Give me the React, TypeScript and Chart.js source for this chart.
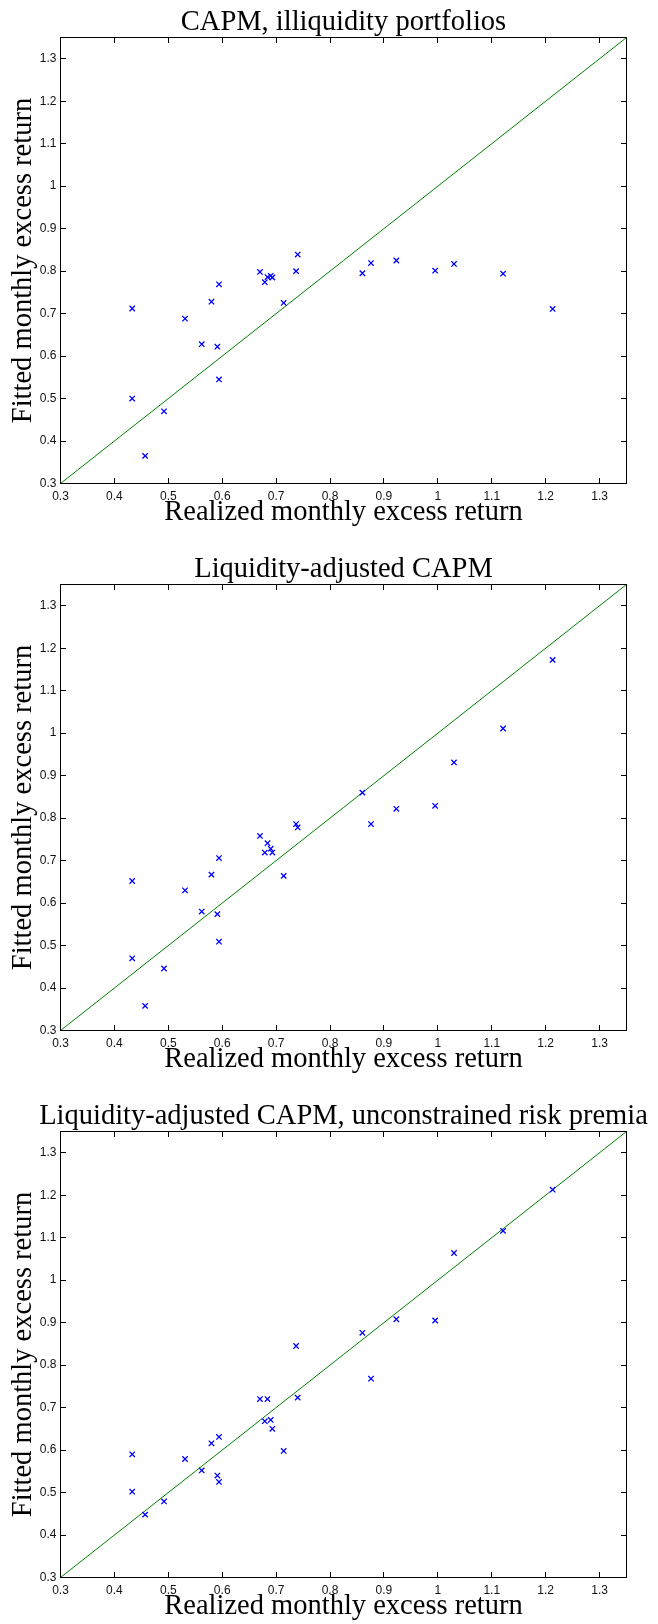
import React, { useEffect, useRef } from 'react';
import { Chart, registerables } from 'chart.js';

Chart.register(...registerables);

// ---- data ----
const REALIZED = [
  0.433, 0.433, 0.457, 0.492, 0.531, 0.562, 0.58, 0.591, 0.594, 0.594,
  0.67, 0.679, 0.684, 0.69, 0.693, 0.714, 0.737, 0.74, 0.86, 0.876,
  0.923, 0.995, 1.03, 1.121, 1.213,
];
const FITTED_CAPM = [
  0.712, 0.5, 0.365, 0.47, 0.688, 0.628, 0.728, 0.622, 0.769, 0.545,
  0.798, 0.774, 0.786, 0.789, 0.785, 0.725, 0.8, 0.839, 0.795, 0.819,
  0.825, 0.801, 0.817, 0.794, 0.711,
];
const FITTED_LCAPM = [
  0.652, 0.47, 0.358, 0.446, 0.63, 0.58, 0.667, 0.574, 0.706, 0.509,
  0.758, 0.719, 0.741, 0.728, 0.719, 0.664, 0.786, 0.778, 0.86, 0.786,
  0.822, 0.829, 0.931, 1.011, 1.1725,
];
const FITTED_UNCONSTRAINED = [
  0.59, 0.502, 0.448, 0.479, 0.579, 0.552, 0.616, 0.54, 0.631, 0.525,
  0.72, 0.668, 0.72, 0.671, 0.65, 0.598, 0.845, 0.7235, 0.876, 0.768,
  0.908, 0.905, 1.064, 1.116, 1.213,
];
const DIAGONAL = [0.3, 1.35];
const TICK_VALUES = [0.3, 0.4, 0.5, 0.6, 0.7, 0.8, 0.9, 1.0, 1.1, 1.2, 1.3];
const TICK_LABELS = ['0.3', '0.4', '0.5', '0.6', '0.7', '0.8', '0.9', '1', '1.1', '1.2', '1.3'];
const AXIS_MIN = 0.3;
const AXIS_MAX = 1.35;
const TITLES = [
  'CAPM, illiquidity portfolios',
  'Liquidity-adjusted CAPM',
  'Liquidity-adjusted CAPM, unconstrained risk premia',
];
const SERIES = [FITTED_CAPM, FITTED_LCAPM, FITTED_UNCONSTRAINED];
const X_LABEL = 'Realized monthly excess return';
const Y_LABEL = 'Fitted monthly excess return';

// ---- layout / style ----
const W = 658;
const PANEL_H = 547;
const SERIF = '"Liberation Serif", "Times New Roman", serif';
const SANS = '"Liberation Sans", Arial, Helvetica, sans-serif';
const BIG = 28.5;
const TICK_LEN = 5.5;

const snap = (v: number) => Math.round(v - 0.5) + 0.5;

const boxPlugin = {
  id: 'matlabBox',
  afterDraw(chart: any) {
    const { ctx, chartArea: a, scales } = chart;
    const xs = scales.x;
    const ys = scales.y;
    ctx.save();
    ctx.strokeStyle = '#000';
    ctx.lineWidth = 1;
    ctx.strokeRect(a.left, a.top, a.right - a.left, a.bottom - a.top);
    ctx.beginPath();
    for (const v of TICK_VALUES) {
      const px = snap(xs.getPixelForValue(v));
      ctx.moveTo(px, a.bottom);
      ctx.lineTo(px, a.bottom - TICK_LEN);
      ctx.moveTo(px, a.top);
      ctx.lineTo(px, a.top + TICK_LEN);
      const py = snap(ys.getPixelForValue(v));
      ctx.moveTo(a.left, py);
      ctx.lineTo(a.left + TICK_LEN, py);
      ctx.moveTo(a.right, py);
      ctx.lineTo(a.right - TICK_LEN, py);
    }
    ctx.stroke();
    ctx.restore();
  },
};

const labelFor = (v: number) => {
  const i = TICK_VALUES.findIndex((t) => Math.abs(t - v) < 1e-9);
  return i >= 0 ? TICK_LABELS[i] : '';
};

function Panel({ index }: { index: number }) {
  const ref = useRef<HTMLCanvasElement | null>(null);
  useEffect(() => {
    if (!ref.current) return;
    const fitted = SERIES[index];
    const chart = new Chart(ref.current, {
      type: 'scatter',
      data: {
        datasets: [
          {
            type: 'scatter',
            data: REALIZED.map((r, i) => ({ x: r, y: fitted[i] })),
            pointStyle: 'crossRot',
            pointRadius: 3.8,
            pointHoverRadius: 3.8,
            borderColor: '#0000ff',
            backgroundColor: '#0000ff',
            borderWidth: 1.3,
          } as any,
          {
            type: 'line',
            data: DIAGONAL.map((v) => ({ x: v, y: v })),
            borderColor: '#008000',
            borderWidth: 1,
            pointRadius: 0,
            fill: false,
            showLine: true,
          } as any,
        ],
      },
      options: {
        animation: false,
        responsive: false,
        devicePixelRatio: 1,
        events: [],
        layout: { padding: { left: 29, right: 0, top: 0, bottom: 0 } },
        plugins: {
          legend: { display: false },
          tooltip: { enabled: false },
          title: {
            display: true,
            text: TITLES[index],
            color: '#000',
            font: { family: SERIF, size: BIG, weight: 'normal', lineHeight: 1 },
            padding: { top: 7.85, bottom: 1.15 },
          },
        },
        scales: {
          x: {
            type: 'linear',
            position: 'bottom',
            min: AXIS_MIN,
            max: AXIS_MAX,
            grid: { display: false, drawTicks: false },
            border: { display: false },
            afterBuildTicks: (s: any) => {
              s.ticks = TICK_VALUES.map((v) => ({ value: v }));
            },
            ticks: {
              callback: (v: any) => labelFor(Number(v)),
              font: { family: SANS, size: 12 },
              color: '#111',
              padding: 6,
              maxRotation: 0,
              autoSkip: false,
            },
            title: {
              display: true,
              text: X_LABEL,
              color: '#000',
              font: { family: SERIF, size: BIG, weight: 'normal', lineHeight: 1 },
              padding: { top: 0, bottom: 20.65 },
            },
            afterFit: (s: any) => {
              s.height = 63.5;
            },
          },
          y: {
            type: 'linear',
            position: 'left',
            min: AXIS_MIN,
            max: AXIS_MAX,
            grid: { display: false, drawTicks: false },
            border: { display: false },
            afterBuildTicks: (s: any) => {
              s.ticks = TICK_VALUES.map((v) => ({ value: v }));
            },
            ticks: {
              callback: (v: any) => labelFor(Number(v)),
              font: { family: SANS, size: 12 },
              color: '#111',
              padding: 4,
              autoSkip: false,
            },
            title: {
              display: true,
              text: Y_LABEL,
              color: '#000',
              font: { family: SERIF, size: BIG, weight: 'normal', lineHeight: 1 },
              padding: { top: -20, bottom: 0 },
            },
            afterFit: (s: any) => {
              s.width = 31.5;
            },
          },
          yRight: {
            type: 'linear',
            position: 'right',
            display: true,
            grid: { display: false, drawTicks: false },
            border: { display: false },
            ticks: { display: false },
            afterFit: (s: any) => {
              s.width = 31.5;
            },
          },
        },
      } as any,
      plugins: [boxPlugin],
    });
    return () => chart.destroy();
  }, [index]);
  return (
    <canvas
      ref={ref}
      width={W}
      height={PANEL_H}
      style={{
        position: 'absolute',
        left: 0,
        top: index * PANEL_H,
        width: W,
        height: PANEL_H,
        display: 'block',
      }}
    />
  );
}

export default function App() {
  return (
    <div
      style={{
        position: 'absolute',
        left: 0,
        top: 0,
        width: W,
        height: 1624,
        overflow: 'hidden',
        background: '#fff',
      }}
    >
      {TITLES.map((_, i) => (
        <Panel key={i} index={i} />
      ))}
    </div>
  );
}
